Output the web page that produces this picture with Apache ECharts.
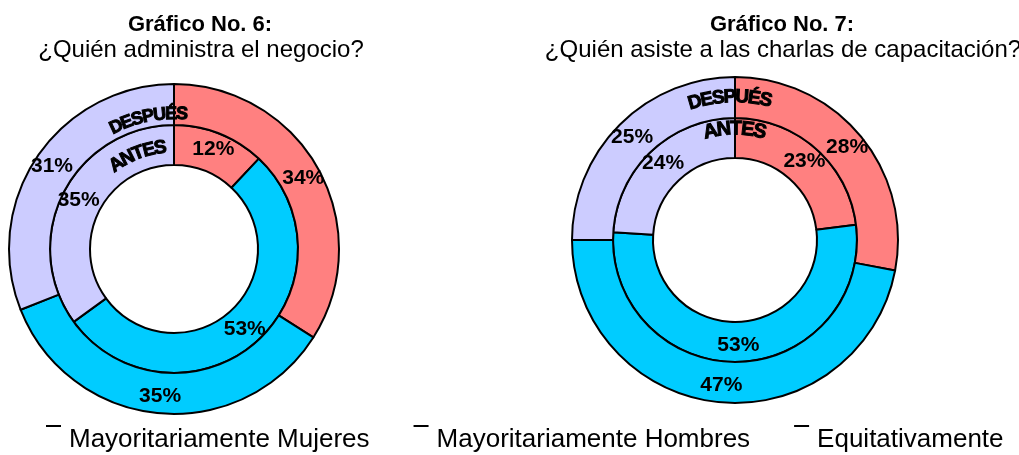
<!DOCTYPE html>
<html>
<head>
<meta charset="utf-8">
<script src="https://cdn.jsdelivr.net/npm/echarts@6/dist/echarts.min.js"></script>
<style>
  html, body { margin: 0; padding: 0; background: #fff; }
  #chart { width: 1019px; height: 455px; }
</style>
</head>
<body>
<div id="chart"></div>
<script>
// categorias y porcentajes
const categories = ["Mayoritariamente Mujeres", "Mayoritariamente Hombres", "Equitativamente"];
const colors = ["#FF8080", "#00CCFF", "#CCCCFF"];

// Grafico 6: ¿Quién administra el negocio?
const negocioAntes = [12, 53, 35];
const negocioDespues = [34, 35, 31];

// Grafico 7: ¿Quién asiste a las charlas de capacitación?
const charlasAntes = [23, 53, 24];
const charlasDespues = [28, 47, 25];

const FONT = "'Liberation Sans', Arial, sans-serif";

const toData = (vals) =>
  vals.map((v, i) => ({ name: categories[i], value: v, itemStyle: { color: colors[i] } }));

const ring = (center, radius, vals) => ({
  type: "pie",
  center: center,
  radius: radius,
  startAngle: 90,
  clockwise: true,
  silent: true,
  itemStyle: { borderColor: "#000", borderWidth: 2 },
  label: {
    show: true,
    position: "inside",
    formatter: "{c}%",
    color: "#000",
    fontSize: 21,
    fontWeight: "bold",
    fontFamily: FONT,
    textBorderWidth: 0,
  },
  labelLine: { show: false },
  emphasis: { disabled: true },
  data: toData(vals),
});

// texto curvo (letra por letra sobre un arco)
const ctx = document.createElement("canvas").getContext("2d");
const arcText = (cx, cy, r, midDeg, text, size) => {
  const font = "bold " + size + "px " + FONT;
  ctx.font = font;
  const widths = Array.from(text).map((c) => ctx.measureText(c).width * 0.92);
  const total = widths.reduce((a, b) => a + b, 0);
  let acc = -total / 2;
  const mid = (midDeg * Math.PI) / 180;
  return Array.from(text).map((c, i) => {
    const a = mid + (acc + widths[i] / 2) / r;
    acc += widths[i];
    return {
      type: "text",
      x: cx + r * Math.sin(a),
      y: cy - r * Math.cos(a),
      rotation: -a,
      z: 100,
      silent: true,
      style: {
        text: c,
        font: font,
        fill: "#000",
        stroke: "#000",
        lineWidth: 1,
        align: "center",
        verticalAlign: "middle",
      },
    };
  });
};

const c1 = [174, 249];
const c2 = [735, 240];

const chart = echarts.init(document.getElementById("chart"));
chart.setOption({
  animation: false,
  title: [
    { text: "Gráfico No. 6:", left: 195, top: 9, textAlign: "center",
      textStyle: { fontSize: 22, fontWeight: "bold", color: "#000", fontFamily: FONT } },
    { text: "¿Quién administra el negocio?", left: 196, top: 33, textAlign: "center",
      textStyle: { fontSize: 24, fontWeight: "normal", color: "#000", fontFamily: FONT } },
    { text: "Gráfico No. 7:", left: 777, top: 9, textAlign: "center",
      textStyle: { fontSize: 22, fontWeight: "bold", color: "#000", fontFamily: FONT } },
    { text: "¿Quién asiste a las charlas de capacitación?", left: 778, top: 33, textAlign: "center",
      textStyle: { fontSize: 24, fontWeight: "normal", color: "#000", fontFamily: FONT } },
  ],
  legend: {
    data: categories,
    left: 46,
    top: 425,
    width: 990,
    padding: 0,
    itemGap: 44,
    itemWidth: 18,
    itemHeight: 30,
    icon: "path://M0,0h15v2h-15zM17.9,29.9h0.1v0.1h-0.1z",
    itemStyle: { color: "#000", borderWidth: 0 },
    textStyle: { fontSize: 26, color: "#000", fontFamily: FONT },
    selectedMode: false,
  },
  series: [
    ring(c1, [84, 124], negocioAntes),
    ring(c1, [124, 165], negocioDespues),
    ring(c2, [82, 122], charlasAntes),
    ring(c2, [122, 163], charlasDespues),
  ],
  graphic: [
    ...arcText(c1[0], c1[1], 135, -11, "DESPUÉS", 18),
    ...arcText(c1[0], c1[1], 102, -21, "ANTES", 19),
    ...arcText(c2[0], c2[1], 143, -2, "DESPUÉS", 19),
    ...arcText(c2[0], c2[1], 111, 0, "ANTES", 20),
  ],
});
</script>
</body>
</html>
